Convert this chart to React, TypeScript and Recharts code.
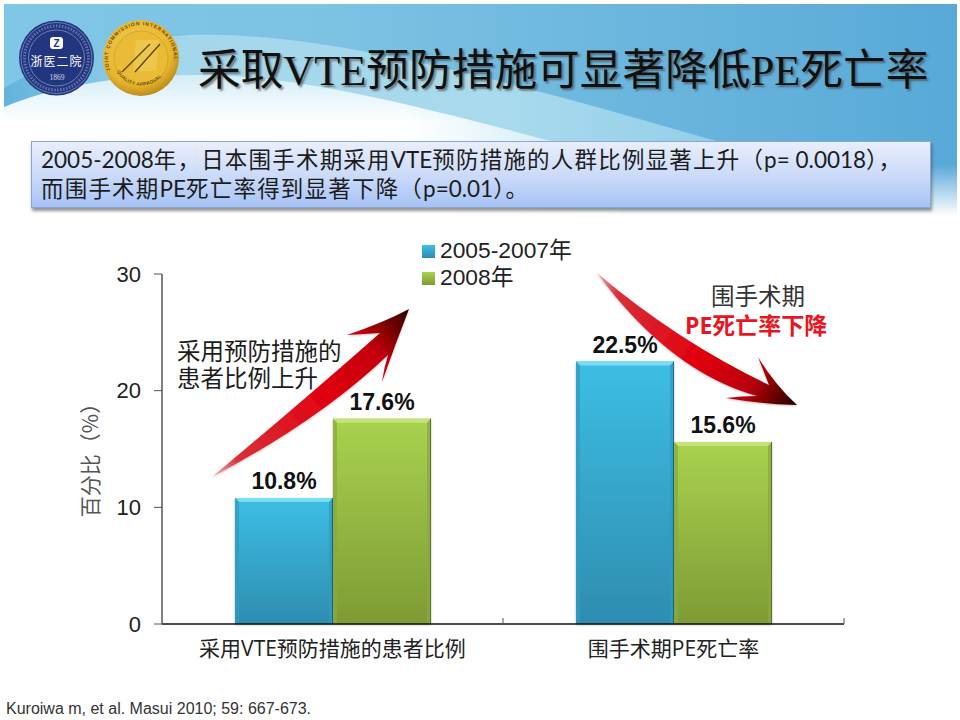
import { Bar, BarChart, LabelList, Legend, XAxis, YAxis } from "recharts";

const categories = ["采用VTE预防措施的患者比例", "围手术期PE死亡率"];
const series2005 = [10.8, 22.5];
const series2008 = [17.6, 15.6];
const seriesNames = ["2005-2007年", "2008年"];
const yTicks = [0, 10, 20, 30];
const boxLines = [
  "2005-2008年，日本围手术期采用VTE预防措施的人群比例显著上升（p= 0.0018），",
  "而围手术期PE死亡率得到显著下降（p=0.01）。",
];

const rows = categories.map((name, i) => ({
  name,
  a: series2005[i],
  b: series2008[i],
}));

const cjk = '"Noto Sans CJK SC"';
const arial = '"Liberation Sans", "Noto Sans CJK SC", sans-serif';
const xTickMargin = 17;

function makeBevel(light: string, side: string, edge: string) {
  return function BevelBar(props: any) {
    const { x, y, width: w, height: h, fill } = props;
    const b = 4;
    return (
      <g>
        <rect x={x} y={y} width={w} height={h} fill={fill} filter="url(#barShadow)" />
        <polygon points={`${x},${y} ${x + w},${y} ${x + w - b},${y + b} ${x + b},${y + b}`} fill={light} />
        <polygon points={`${x},${y} ${x + b},${y + b} ${x + b},${y + h} ${x},${y + h}`} fill={side} opacity={0.75} />
        <polygon points={`${x + w},${y} ${x + w - b},${y + b} ${x + w - b},${y + h} ${x + w},${y + h}`} fill={side} opacity={0.75} />
        <rect x={x + w - 1} y={y} width={1} height={h} fill={edge} />
      </g>
    );
  };
}

const BlueBar = makeBevel("#7adcf2", "#2f9cc0", "#1f6f8c");
const GreenBar = makeBevel("#c6e27a", "#8aa93f", "#5f7428");

function labelText(v: any) {
  return `${v}%`;
}

// category label, plus the short mark at the right edge of its band
function CategoryTick(props: any) {
  const { x, y, width, payload } = props;
  const edge = x + width / categories.length / 2;
  const base = y - xTickMargin;
  return (
    <g>
      <line x1={edge} x2={edge} y1={base - 6} y2={base} stroke="#555" strokeWidth={1} />
      <text
        x={x}
        y={y}
        dy="0.71em"
        textAnchor="middle"
        fontFamily={`"Open Sans", ${cjk}`}
        fontSize={21}
        fill="#222"
      >
        {payload.value}
      </text>
    </g>
  );
}

function LegendList({ payload }: any) {
  return (
    <div>
      {(payload || []).map((entry: any) => (
        <div key={entry.value} style={{ height: 27, lineHeight: "27px", position: "relative", whiteSpace: "nowrap" }}>
          <svg width={13} height={13} style={{ position: "absolute", left: 0, top: 8 }}>
            <rect width={13} height={13} fill={entry.color} />
          </svg>
          <span style={{ position: "absolute", left: 18, top: 0, fontFamily: arial, fontSize: 22.8, color: "#222" }}>
            {entry.value}
          </span>
        </div>
      ))}
    </div>
  );
}

function Background() {
  return (
    <svg width={960} height={720} style={{ position: "absolute", left: 0, top: 0 }}>
      <defs>
        <linearGradient id="skyH" x1="0" y1="0" x2="1" y2="0">
          <stop offset="0" stopColor="#80c6e6" />
          <stop offset="0.35" stopColor="#7cc2e3" />
          <stop offset="1" stopColor="#58a9d8" />
        </linearGradient>
        <linearGradient id="bottomFade" gradientUnits="userSpaceOnUse" x1={0} y1={165} x2={0} y2={216}>
          <stop offset="0" stopColor="#ffffff" stopOpacity="0" />
          <stop offset="1" stopColor="#ffffff" />
        </linearGradient>
        <linearGradient id="bandFill" gradientUnits="userSpaceOnUse" x1={4} y1={0} x2={720} y2={0}>
          <stop offset="0" stopColor="#62b3dc" />
          <stop offset="0.25" stopColor="#a4d7ec" />
          <stop offset="0.7" stopColor="#a9daee" />
          <stop offset="1" stopColor="#93cfe8" />
        </linearGradient>
        <linearGradient id="whiteFill" gradientUnits="userSpaceOnUse" x1={0} y1={72} x2={0} y2={122}>
          <stop offset="0" stopColor="#d2ecf7" />
          <stop offset="1" stopColor="#ffffff" />
        </linearGradient>
        <linearGradient id="maskH" gradientUnits="userSpaceOnUse" x1={4} y1={0} x2={730} y2={0}>
          <stop offset="0" stopColor="#ffffff" />
          <stop offset="0.55" stopColor="#ffffff" />
          <stop offset="1" stopColor="#000000" />
        </linearGradient>
        <mask id="fadeRight" maskUnits="userSpaceOnUse" x={0} y={0} width={960} height={240}>
          <rect x={0} y={0} width={960} height={240} fill="url(#maskH)" />
        </mask>
        <radialGradient id="gold" cx="0.45" cy="0.4" r="0.65">
          <stop offset="0" stopColor="#f6d45a" />
          <stop offset="0.7" stopColor="#e6b52e" />
          <stop offset="1" stopColor="#b07f16" />
        </radialGradient>
        <path id="goldTop" d="M112,74 a33,33 0 1 1 58,0" />
        <path id="goldBottom" d="M115,68 a28,28 0 0 0 52,0" />
      </defs>
      <rect x={4} y={4} width={953} height={214} fill="url(#skyH)" />
      <path d="M4,88 C60,55 130,38 190,35 C330,30 540,90 720,142 L720,170 L4,170 Z" fill="url(#bandFill)" />
      <g mask="url(#fadeRight)">
        <path d="M4,107 C50,88 110,75 200,75 C300,75 420,105 620,160 L620,218 L4,218 Z" fill="url(#whiteFill)" />
      </g>
      <rect x={4} y={165} width={953} height={55} fill="url(#bottomFade)" />

      <circle cx={56.5} cy={58} r={37.5} fill="#22367f" />
      <circle cx={56.5} cy={58} r={28} fill="none" stroke="#8f9cc8" strokeWidth={0.7} />
      <circle cx={56.5} cy={58} r={35.5} fill="none" stroke="#8f9cc8" strokeWidth={0.7} />
      <circle cx={56.5} cy={58} r={32} fill="none" stroke="#7d8bbd" strokeWidth={3} strokeDasharray="1.5 1.5" opacity={0.7} />
      <rect x={50} y={37} width={13} height={12} rx={3} fill="#ffffff" />
      <text x={56.5} y={47} textAnchor="middle" fontFamily={arial} fontWeight={700} fontSize={10} fill="#22367f">Z</text>
      <text x={56.5} y={66} textAnchor="middle" fontFamily={cjk} fontSize={12} letterSpacing={1} fill="#ffffff">浙医二院</text>
      <text x={57} y={80} textAnchor="middle" fontFamily='"Liberation Serif"' fontSize={7.5} fill="#d5daec">1869</text>

      <circle cx={141} cy={58} r={38} fill="url(#gold)" />
      <circle cx={141} cy={58} r={27} fill="#e9bb37" stroke="#c6951f" strokeWidth={0.6} />
      <text fontFamily={arial} fontSize={5} fontWeight={700} letterSpacing={0.9} fill="#6d4c08">
        <textPath href="#goldTop" startOffset="3%">JOINT COMMISSION INTERNATIONAL</textPath>
      </text>
      <text fontFamily={arial} fontSize={4.6} fontWeight={700} letterSpacing={0.4} fill="#6d4c08">
        <textPath href="#goldBottom" startOffset="6%">QUALITY APPROVAL</textPath>
      </text>
      <path d="M136,40 L159,40 L156,71 L133,71 Z" fill="#efc950" opacity={0.8} />
      <path d="M122,72 L150,44 M135,72 L160,44" stroke="#5d4a16" strokeWidth={1.4} />
    </svg>
  );
}

function Arrows() {
  return (
    <svg width={960} height={720} style={{ position: "absolute", left: 0, top: 0, pointerEvents: "none" }}>
      <defs>
        <linearGradient id="upArrow" gradientUnits="userSpaceOnUse" x1={212} y1={477} x2={409} y2={309}>
          <stop offset="0" stopColor="#f3b7bb" />
          <stop offset="0.12" stopColor="#d8303a" />
          <stop offset="0.55" stopColor="#e0000f" />
          <stop offset="0.8" stopColor="#c20008" />
          <stop offset="1" stopColor="#2c0000" />
        </linearGradient>
        <linearGradient id="downArrow" gradientUnits="userSpaceOnUse" x1={597} y1={273} x2={797} y2={405}>
          <stop offset="0" stopColor="#e6b0b4" />
          <stop offset="0.12" stopColor="#d8303a" />
          <stop offset="0.55" stopColor="#e0000f" />
          <stop offset="0.8" stopColor="#b80008" />
          <stop offset="1" stopColor="#1e0000" />
        </linearGradient>
        <filter id="arrowShadow" x="-10%" y="-10%" width="120%" height="120%">
          <feDropShadow dx={0} dy={1} stdDeviation={1} floodColor="#000" floodOpacity={0.25} />
        </filter>
      </defs>
      <path
        d="M212,477 Q310,395 380,333 L347,335 Q385,322 409,309 Q395,345 382,382 Q384,368 388,355 Q320,420 212,477 Z"
        fill="url(#upArrow)"
        filter="url(#arrowShadow)"
      />
      <path
        d="M597,273 Q677,341 769,385 L758,357 Q775,385 797,405 Q760,404 726,398 Q742,396 757,396 Q670,372 597,273 Z"
        fill="url(#downArrow)"
        filter="url(#arrowShadow)"
      />
    </svg>
  );
}

function abs(left: number, top: number, extra: any) {
  return { position: "absolute", left, top, whiteSpace: "nowrap", ...extra } as any;
}

// CJK runs get a little extra tracking, latin runs stay as they are
function BoxLine({ text }: { text: string }) {
  const parts = text.split(/([\u3000-\u9fff\uff00-\uffef]+)/);
  return (
    <div>
      {parts.map((p, i) => (
        <span key={i} style={i % 2 ? { letterSpacing: 1.2 } : undefined}>
          {p}
        </span>
      ))}
    </div>
  );
}

export default function App() {
  return (
    <div style={{ position: "absolute", left: 0, top: 0, width: 960, height: 720, background: "#fff", overflow: "hidden" }}>
      <Background />

      <div
        style={abs(198, 41, {
          fontFamily: `"Liberation Serif", ${cjk}`,
          fontSize: 42.7,
          lineHeight: "60px",
          color: "#111",
          textShadow: "2px 2px 2px rgba(70,70,70,0.65)",
        })}
      >
        采取VTE预防措施可显著降低PE死亡率
      </div>

      <div
        style={{
          position: "absolute",
          left: 31,
          top: 141,
          width: 900,
          height: 67,
          boxSizing: "border-box",
          border: "1px solid #8ca8d2",
          background: "linear-gradient(180deg, #e9eefc 0%, #c9d9f9 55%, #a6c3f5 100%)",
          boxShadow: "1px 3px 3px rgba(60,60,60,0.55)",
        }}
      />
      <div style={abs(41, 145, { fontFamily: `Lato, ${cjk}`, fontSize: 22.5, lineHeight: "29px", color: "#1c1c1c" })}>
        {boxLines.map((line) => (
          <BoxLine key={line} text={line} />
        ))}
      </div>

      <div style={{ position: "absolute", left: 0, top: 0 }}>
        <BarChart
          width={960}
          height={720}
          data={rows}
          barGap={0}
          barCategoryGap={0}
          margin={{ top: 274, right: 116, bottom: 56, left: 72 }}
        >
          <defs>
            <linearGradient id="blueFill" x1="0" y1="0" x2="0" y2="1">
              <stop offset="0" stopColor="#3dbee4" />
              <stop offset="1" stopColor="#2e8db0" />
            </linearGradient>
            <linearGradient id="greenFill" x1="0" y1="0" x2="0" y2="1">
              <stop offset="0" stopColor="#a9d24f" />
              <stop offset="1" stopColor="#7e9b34" />
            </linearGradient>
            <filter id="barShadow" x="-5%" y="-5%" width="110%" height="110%">
              <feDropShadow dx={0} dy={1} stdDeviation={1.2} floodColor="#000" floodOpacity={0.3} />
            </filter>
          </defs>
          <XAxis
            dataKey="name"
            height={40}
            interval={0}
            axisLine={{ stroke: "#111", strokeWidth: 1.5 }}
            tickLine={false}
            tickSize={0}
            tickMargin={xTickMargin}
            tick={CategoryTick}
          />
          <YAxis
            width={90}
            domain={[0, 30]}
            ticks={yTicks}
            axisLine={{ stroke: "#555", strokeWidth: 1.5 }}
            tickLine={{ stroke: "#555" }}
            tickSize={8}
            tickMargin={13}
            tick={{ fontFamily: arial, fontSize: 22, fill: "#222" }}
            label={{
              value: "百分比（%）",
              angle: -90,
              position: "insideLeft",
              offset: 19,
              dy: 6,
              style: { fontFamily: cjk, fontSize: 21, fill: "#555", textAnchor: "middle" },
            }}
          />
          <Legend
            layout="vertical"
            align="center"
            verticalAlign="middle"
            content={LegendList}
            wrapperStyle={{ left: 422, top: 237, width: 180, padding: 0, textAlign: "left" }}
          />
          <Bar
            dataKey="a"
            name={seriesNames[0]}
            fill="url(#blueFill)"
            barSize={98}
            shape={BlueBar}
            isAnimationActive={false}
          >
            <LabelList
              dataKey="a"
              position="top"
              offset={9}
              formatter={labelText}
              style={{ fontFamily: arial, fontSize: 23, fontWeight: 700, fill: "#111" }}
            />
          </Bar>
          <Bar
            dataKey="b"
            name={seriesNames[1]}
            fill="url(#greenFill)"
            barSize={98}
            shape={GreenBar}
            isAnimationActive={false}
          >
            <LabelList
              dataKey="b"
              position="top"
              offset={9}
              formatter={labelText}
              style={{ fontFamily: arial, fontSize: 23, fontWeight: 700, fill: "#111" }}
            />
          </Bar>
        </BarChart>
      </div>

      <Arrows />

      <div style={abs(177, 337, { fontFamily: cjk, fontSize: 23.5, lineHeight: "27px", color: "#1c1c1c" })}>
        采用预防措施的
        <br />
        患者比例上升
      </div>
      <div style={abs(711, 281, { fontFamily: cjk, fontSize: 23.5, lineHeight: "28px", color: "#333" })}>围手术期</div>
      <div style={abs(685, 311, { fontFamily: `"Open Sans", ${cjk}`, fontSize: 23, lineHeight: "28px", fontWeight: 700, color: "#ea1520" })}>
        PE死亡率下降
      </div>
      <div style={abs(6, 699, { fontFamily: arial, fontSize: 16, lineHeight: "20px", color: "#333" })}>
        Kuroiwa m, et al. Masui 2010; 59: 667-673.
      </div>
    </div>
  );
}
